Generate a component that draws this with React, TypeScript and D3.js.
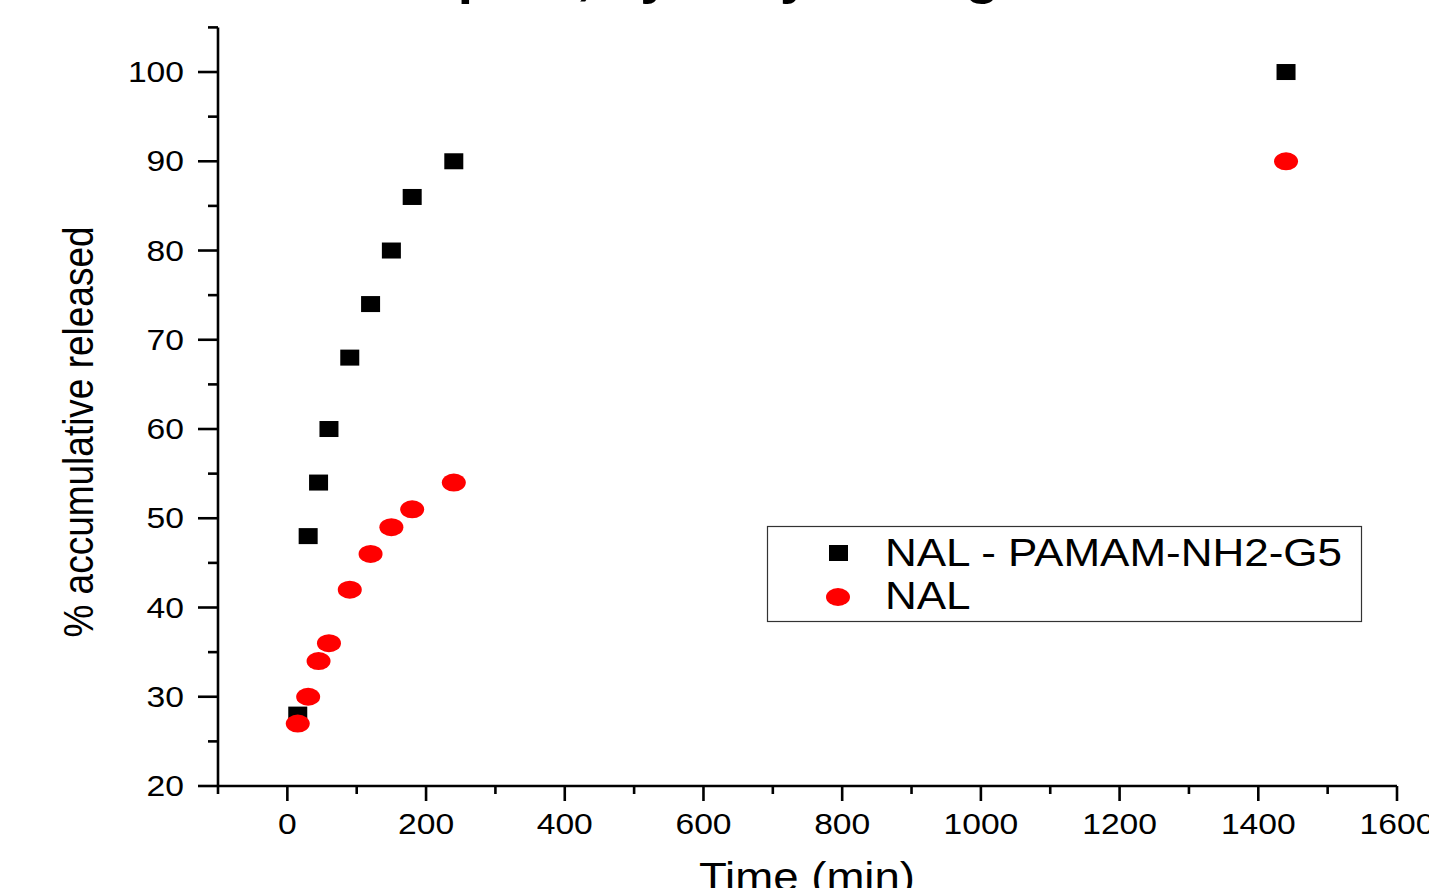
import React from "react";
import * as d3 from "d3";

const timeMin = [15, 30, 45, 60, 90, 120, 150, 180, 240, 1440];
const conjugateRelease = [28, 48, 54, 60, 68, 74, 80, 86, 90, 100];
const nalRelease = [27, 30, 34, 36, 42, 46, 49, 51, 54, 90];
const seriesNames = ["NAL - PAMAM-NH2-G5", "NAL"];
const xMajorTicks = [0, 200, 400, 600, 800, 1000, 1200, 1400, 1600];
const xMinorTicks = [-100, 100, 300, 500, 700, 900, 1100, 1300, 1500];
const yMajorTicks = [20, 30, 40, 50, 60, 70, 80, 90, 100];
const yMinorTicks = [25, 35, 45, 55, 65, 75, 85, 95, 105];
const titleText = "Release at pH 7, by dialysis bag method";
const xLabel = "Time (min)";
const yLabel = "% accumulative released";

const W = 1429;
const H = 888;
const FONT = "'Liberation Sans', Arial, sans-serif";
const SX = 1.14;

export default function App() {
  const x = d3.scaleLinear().domain([-100, 1600]).range([218, 1397]);
  const y = d3.scaleLinear().domain([20, 105]).range([786, 27.4]);
  const axisW = 2.6;

  const squares = timeMin.map((t, i) => ({ t, v: conjugateRelease[i] }));
  const circles = timeMin.map((t, i) => ({ t, v: nalRelease[i] }));

  return (
    <svg
      width={W}
      height={H}
      viewBox={`0 0 ${W} ${H}`}
      style={{ position: "absolute", left: 0, top: 0, background: "#fff" }}
    >
      <rect x={0} y={0} width={W} height={H} fill="#fff" />
      {/* title (mostly cut off at top) */}
      <text
        transform={`translate(172,-6) scale(${SX},1)`}
        fontFamily={FONT}
        fontWeight="bold"
        fontSize={48}
        fill="#000"
      >
        {titleText}
      </text>

      {/* axes lines */}
      <line x1={x(-100)} x2={x(1600)} y1={y(20)} y2={y(20)} stroke="#000" strokeWidth={axisW} />
      <line x1={x(-100)} x2={x(-100)} y1={y(20)} y2={y(105)} stroke="#000" strokeWidth={axisW} />

      {/* x ticks */}
      {xMajorTicks.map((t) => (
        <g key={"xm" + t}>
          <line x1={x(t)} x2={x(t)} y1={y(20)} y2={y(20) + 15} stroke="#000" strokeWidth={axisW} />
          <text
            transform={`translate(${x(t)},834) scale(${SX},1)`}
            textAnchor="middle"
            fontFamily={FONT}
            fontSize={29.5}
            fill="#000"
          >
            {t}
          </text>
        </g>
      ))}
      {xMinorTicks.map((t) => (
        <line key={"xn" + t} x1={x(t)} x2={x(t)} y1={y(20)} y2={y(20) + 8} stroke="#000" strokeWidth={axisW} />
      ))}

      {/* y ticks */}
      {yMajorTicks.map((t) => (
        <g key={"ym" + t}>
          <line x1={x(-100) - 20} x2={x(-100)} y1={y(t)} y2={y(t)} stroke="#000" strokeWidth={axisW} />
          <text
            transform={`translate(184,${y(t) + 10}) scale(${SX},1)`}
            textAnchor="end"
            fontFamily={FONT}
            fontSize={29.5}
            fill="#000"
          >
            {t}
          </text>
        </g>
      ))}
      {yMinorTicks.map((t) => (
        <line key={"yn" + t} x1={x(-100) - 10} x2={x(-100)} y1={y(t)} y2={y(t)} stroke="#000" strokeWidth={axisW} />
      ))}

      {/* axis labels */}
      <text
        transform={`translate(807,891) scale(${SX},1)`}
        textAnchor="middle"
        fontFamily={FONT}
        fontSize={40}
        fill="#000"
      >
        {xLabel}
      </text>
      <text
        transform={`translate(93,432) scale(${SX},1) rotate(-90)`}
        textAnchor="middle"
        fontFamily={FONT}
        fontSize={37}
        fill="#000"
      >
        {yLabel}
      </text>

      {/* data: squares */}
      {squares.map((d, i) => (
        <rect
          key={"s" + i}
          x={x(d.t) - 9.5}
          y={y(d.v) - 8}
          width={19}
          height={16}
          fill="#000"
        />
      ))}
      {/* data: circles */}
      {circles.map((d, i) => (
        <ellipse key={"c" + i} cx={x(d.t)} cy={y(d.v)} rx={12} ry={9} fill="#ff0000" />
      ))}

      {/* legend */}
      <rect x={767.5} y={526.5} width={594} height={95} fill="#fff" stroke="#333" strokeWidth={1.2} />
      <rect x={829} y={545} width={19} height={16} fill="#000" />
      <ellipse cx={838} cy={597} rx={12} ry={9} fill="#ff0000" />
      <text
        transform={`translate(885,566) scale(${SX},1)`}
        fontFamily={FONT}
        fontSize={38.6}
        fill="#000"
      >
        {seriesNames[0]}
      </text>
      <text
        transform={`translate(885,609) scale(${SX},1)`}
        fontFamily={FONT}
        fontSize={38.6}
        fill="#000"
      >
        {seriesNames[1]}
      </text>
    </svg>
  );
}
